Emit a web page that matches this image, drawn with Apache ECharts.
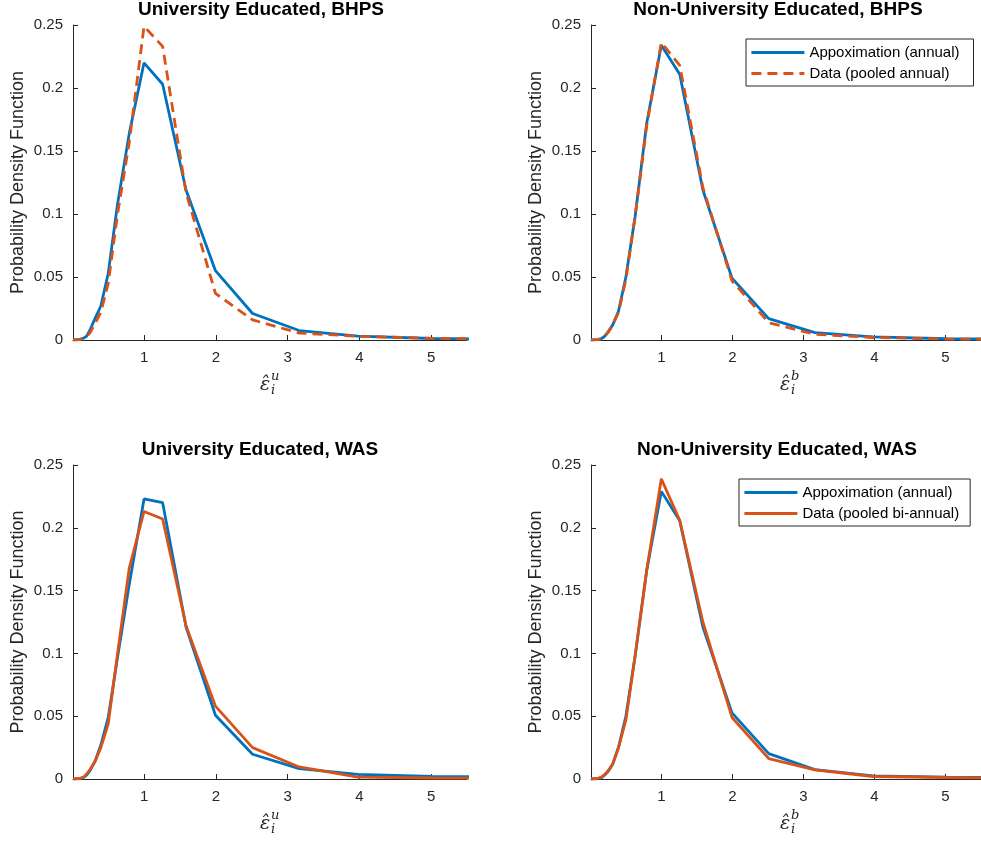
<!DOCTYPE html>
<html>
<head>
<meta charset="utf-8">
<script src="https://cdn.jsdelivr.net/npm/echarts@6/dist/echarts.min.js"></script>
<style>html,body{margin:0;padding:0;background:#fff}#c{width:981px;height:841px}</style>
</head>
<body>
<div id="c"></div>
<script>
// ---- data ----
const xGrid = [0.01, 0.1, 0.126, 0.158, 0.2, 0.251, 0.316, 0.398, 0.501, 0.631, 0.794, 1.0, 1.259, 1.585, 1.995, 2.512, 3.162, 3.981, 5.012, 6.31];
const xTicks = [1, 2, 3, 4, 5];

const bhpsUniApprox = [0, 0.0004, 0.0008, 0.0015, 0.003, 0.0085, 0.017, 0.027, 0.053, 0.108, 0.164, 0.220, 0.203, 0.119, 0.055, 0.021, 0.0075, 0.003, 0.0012, 0.0005];
const bhpsUniData   = [0, 0.0003, 0.0006, 0.0012, 0.0025, 0.006, 0.013, 0.022, 0.045, 0.100, 0.157, 0.249, 0.233, 0.117, 0.037, 0.016, 0.0055, 0.003, 0.0013, 0.0005];
const bhpsNonApprox = [0, 0.0003, 0.0006, 0.0012, 0.0028, 0.0065, 0.012, 0.023, 0.050, 0.098, 0.172, 0.234, 0.211, 0.119, 0.049, 0.017, 0.0058, 0.0025, 0.001, 0.0004];
const bhpsNonData   = [0, 0.0003, 0.0005, 0.001, 0.0025, 0.006, 0.012, 0.022, 0.048, 0.098, 0.170, 0.236, 0.218, 0.121, 0.047, 0.0137, 0.0045, 0.002, 0.0008, 0.0003];
const wasUniApprox  = [0, 0.0003, 0.0006, 0.0012, 0.003, 0.007, 0.014, 0.027, 0.049, 0.097, 0.155, 0.223, 0.220, 0.121, 0.0508, 0.0197, 0.0083, 0.0037, 0.002, 0.0015];
const wasUniData    = [0, 0.0004, 0.0008, 0.0015, 0.004, 0.008, 0.014, 0.025, 0.044, 0.100, 0.168, 0.213, 0.207, 0.122, 0.058, 0.025, 0.0096, 0.0015, 0.0008, 0.0005];
const wasNonApprox  = [0, 0.0003, 0.0005, 0.001, 0.003, 0.006, 0.012, 0.0255, 0.050, 0.098, 0.166, 0.229, 0.2056, 0.121, 0.0526, 0.0202, 0.0075, 0.0025, 0.0015, 0.0008];
const wasNonData    = [0, 0.0004, 0.0008, 0.0015, 0.0035, 0.0065, 0.012, 0.025, 0.047, 0.098, 0.166, 0.239, 0.206, 0.125, 0.049, 0.0163, 0.0072, 0.002, 0.0012, 0.0006];

const titles = ['University Educated, BHPS', 'Non-University Educated, BHPS', 'University Educated, WAS', 'Non-University Educated, WAS'];
const approxName = 'Appoximation (annual)';
const dataNameBHPS = 'Data (pooled annual)';
const dataNameWAS = 'Data (pooled bi-annual)';
const yLabel = 'Probability Density Function';
const xSup = ['u', 'b', 'u', 'b'];

// ---- layout ----
const BLUE = '#0072BD', ORANGE = '#D95319', AX = '#262626';
const FONT = '"Liberation Sans", Arial, sans-serif';
const grids = [
  {left: 73, top: 25, width: 394, height: 315},
  {left: 591, top: 25, width: 394, height: 315},
  {left: 73, top: 465, width: 394, height: 314},
  {left: 591, top: 465, width: 394, height: 314}
];
const titlePos = [[261, 9.5], [778, 9.5], [260, 449.5], [777, 449.5]];
const xLabelPos = [[265, 385], [785, 385], [265, 824], [785, 824]];

function pairs(ys) { return xGrid.map((x, i) => [x, ys[i]]); }

const panels = [
  [bhpsUniApprox, bhpsUniData, dataNameBHPS, 'dashed'],
  [bhpsNonApprox, bhpsNonData, dataNameBHPS, 'dashed'],
  [wasUniApprox, wasUniData, dataNameWAS, 'solid'],
  [wasNonApprox, wasNonData, dataNameWAS, 'solid']
];

const xAxes = [], yAxes = [], series = [], graphics = [];
grids.forEach((g, i) => {
  xAxes.push({
    type: 'value', gridIndex: i, min: 0.01, max: 5.5,
    axisLine: {show: true, onZero: false, lineStyle: {color: AX, width: 1}},
    axisTick: {show: true, inside: true, length: 5, customValues: xTicks, lineStyle: {color: AX}},
    axisLabel: {customValues: xTicks, color: AX, fontSize: 15, fontFamily: FONT, margin: 10},
    splitLine: {show: false}
  });
  yAxes.push({
    type: 'value', gridIndex: i, min: 0, max: 0.25, interval: 0.05,
    axisLine: {show: true, onZero: false, lineStyle: {color: AX, width: 1}},
    axisTick: {show: true, inside: true, length: 5, lineStyle: {color: AX}},
    axisLabel: {color: AX, fontSize: 15, fontFamily: FONT, margin: 10},
    splitLine: {show: false},
    name: yLabel, nameLocation: 'middle', nameGap: 46,
    nameTextStyle: {color: AX, fontSize: 18, fontFamily: FONT}
  });
  const p = panels[i];
  series.push({
    type: 'line', name: approxName, xAxisIndex: i, yAxisIndex: i, data: pairs(p[0]),
    symbol: 'none', showSymbol: false, clip: true, z: 2,
    lineStyle: {color: BLUE, width: 2.8}, itemStyle: {color: BLUE}
  });
  series.push({
    type: 'line', name: p[2], xAxisIndex: i, yAxisIndex: i, data: pairs(p[1]),
    symbol: 'none', showSymbol: false, clip: true, z: 3,
    lineStyle: {color: ORANGE, width: 2.8, type: p[3] === 'dashed' ? [10, 6] : 'solid'}, itemStyle: {color: ORANGE}
  });
  graphics.push({
    type: 'text', x: titlePos[i][0], y: titlePos[i][1],
    style: {text: titles[i], font: 'bold 19px ' + FONT, fill: '#000',
      textAlign: 'center', textVerticalAlign: 'middle', align: 'center', verticalAlign: 'middle'}
  });
  const lx = xLabelPos[i][0], ly = xLabelPos[i][1];
  graphics.push({
    type: 'text', x: lx, y: ly,
    style: {text: 'ε\u0302', font: 'italic 19px "DejaVu Serif", serif', fill: AX,
      textAlign: 'center', textVerticalAlign: 'middle', align: 'center', verticalAlign: 'middle'}
  });
  graphics.push({
    type: 'text', x: lx + 6, y: ly - 8,
    style: {text: xSup[i], font: 'italic 13px "DejaVu Serif", serif', fill: AX,
      textAlign: 'left', textVerticalAlign: 'middle', align: 'left', verticalAlign: 'middle'}
  });
  graphics.push({
    type: 'text', x: lx + 6, y: ly + 6,
    style: {text: 'i', font: 'italic 13px "DejaVu Serif", serif', fill: AX,
      textAlign: 'left', textVerticalAlign: 'middle', align: 'left', verticalAlign: 'middle'}
  });
});

const legendCommon = {
  orient: 'vertical', itemWidth: 53, itemHeight: 14, itemGap: 6,
  backgroundColor: '#fff', borderColor: AX, borderWidth: 1,
  textStyle: {color: '#000', fontSize: 15, fontFamily: FONT},
  itemStyle: {opacity: 0},
  lineStyle: {width: 2.8},
  selectedMode: false
};

const chart = echarts.init(document.getElementById('c'), null, {renderer: 'canvas'});
chart.setOption({
  animation: false,
  backgroundColor: '#fff',
  grid: grids.map(g => Object.assign({containLabel: false}, g)),
  xAxis: xAxes,
  yAxis: yAxes,
  series: series,
  legend: [
    Object.assign({}, legendCommon, {left: 746, top: 39, padding: [6, 14, 5, 4], data: [approxName, dataNameBHPS]}),
    Object.assign({}, legendCommon, {left: 739, top: 479, padding: [6, 11, 5, 4], data: [approxName, dataNameWAS]})
  ],
  graphic: graphics
});
</script>
</body>
</html>
